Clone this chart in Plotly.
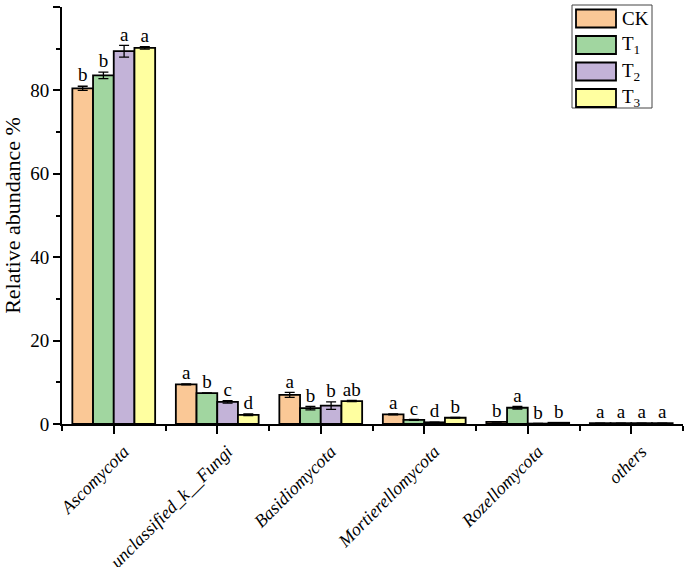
import plotly.graph_objects as go

categories = ["Ascomycota", "unclassified_k__Fungi", "Basidiomycota",
              "Mortierellomycota", "Rozellomycota", "others"]
groups = ["CK", "T1", "T2", "T3"]
group_labels = ["CK", "T<sub>1</sub>", "T<sub>2</sub>", "T<sub>3</sub>"]

ck = [80.5, 9.5, 7.0, 2.3, 0.5, 0.2]
t1 = [83.6, 7.4, 3.8, 1.0, 3.9, 0.2]
t2 = [89.4, 5.3, 4.4, 0.4, 0.1, 0.2]
t3 = [90.2, 2.2, 5.5, 1.5, 0.3, 0.2]

ck_err = [0.5, 0.1, 0.6, 0.1, 0.05, 0.02]
t1_err = [0.8, 0.05, 0.4, 0.1, 0.3, 0.02]
t2_err = [1.4, 0.3, 0.9, 0.05, 0.02, 0.02]
t3_err = [0.3, 0.2, 0.15, 0.1, 0.05, 0.02]

ck_sig = ["b", "a", "a", "a", "b", "a"]
t1_sig = ["b", "b", "b", "c", "a", "a"]
t2_sig = ["a", "c", "b", "d", "b", "a"]
t3_sig = ["a", "d", "ab", "b", "b", "a"]

y_ticks = [0, 20, 40, 60, 80, 100]

values = [ck, t1, t2, t3]
errors = [ck_err, t1_err, t2_err, t3_err]
sigs = [ck_sig, t1_sig, t2_sig, t3_sig]
colors = ["#FAC896", "#A1D6A0", "#C3B3D8", "#FFFFA0"]

FONT = "Liberation Serif, Times New Roman, serif"
bar_w = 0.2

fig = go.Figure()
for j, g in enumerate(groups):
    xs = [i + (j - 1.5) * bar_w for i in range(len(categories))]
    fig.add_trace(go.Bar(
        x=xs, y=values[j], width=bar_w, name=g,
        marker=dict(color=colors[j], line=dict(color="black", width=1.8)),
        error_y=dict(type="data", array=errors[j], visible=True,
                     color="black", thickness=1.3, width=5),
        showlegend=False,
    ))
for j, g in enumerate(groups):
    xs = [i + (j - 1.5) * bar_w for i in range(len(categories))]
    ys = [v + e for v, e in zip(values[j], errors[j])]
    fig.add_trace(go.Scatter(
        x=xs, y=ys, mode="text", text=sigs[j], textposition="top center",
        textfont=dict(family=FONT, size=19, color="black"),
        showlegend=False, cliponaxis=False, hoverinfo="skip",
    ))

# legend drawn manually (paper coords)
L, T, PW, PH = 62, 7, 621, 417
def px(x):
    return (x - L) / PW
def py(y):
    return (T + PH - y) / PH

shapes = [dict(type="rect", xref="paper", yref="paper",
               x0=px(572), x1=px(652), y0=py(5), y1=py(108),
               line=dict(color="#444", width=1), fillcolor="white", layer="above")]
annotations = []
for k, lab in enumerate(group_labels):
    top = 9.5 + k * 26.5
    shapes.append(dict(type="rect", xref="paper", yref="paper",
                       x0=px(576), x1=px(616), y0=py(top), y1=py(top + 18),
                       line=dict(color="black", width=1.8), fillcolor=colors[k],
                       layer="above"))
    annotations.append(dict(xref="paper", yref="paper", x=px(620), y=py(top + 9),
                            text=lab, showarrow=False, xanchor="left", yanchor="middle",
                            font=dict(family=FONT, size=19, color="black")))

fig.update_layout(
    width=685, height=567,
    margin=dict(l=62, r=2, t=7, b=143),
    plot_bgcolor="white", paper_bgcolor="white",
    barmode="overlay",
    shapes=shapes, annotations=annotations,
    font=dict(family=FONT, size=18, color="black"),
)
fig.update_xaxes(
    range=[-0.5, 5.5], automargin=False,
    tickvals=list(range(len(categories))), ticktext=categories,
    tickangle=-45,
    tickfont=dict(family=FONT, size=18, color="black", style="italic"),
    ticklabelshift=10,
    showline=True, linecolor="black", linewidth=2,
    ticks="outside", ticklen=8, tickwidth=2, tickcolor="black",
    minor=dict(tickvals=[i - 0.5 for i in range(len(categories) + 1)],
               ticks="outside", ticklen=5, tickwidth=1.5, tickcolor="black"),
    showgrid=False, zeroline=False,
)
fig.update_yaxes(
    range=[0, 100], automargin=False,
    tickvals=y_ticks,
    tickfont=dict(family=FONT, size=19, color="black"),
    title=dict(text="Relative abundance %", font=dict(family=FONT, size=22, color="black"),
               standoff=10),
    showline=True, linecolor="black", linewidth=2,
    ticks="outside", ticklen=7, tickwidth=2, tickcolor="black",
    minor=dict(dtick=10, ticks="outside", ticklen=4, tickwidth=1.5, tickcolor="black"),
    showgrid=False, zeroline=False,
)

fig.write_html("out.html", config={"displayModeBar": False},
               post_script="document.body.style.margin='0';")
